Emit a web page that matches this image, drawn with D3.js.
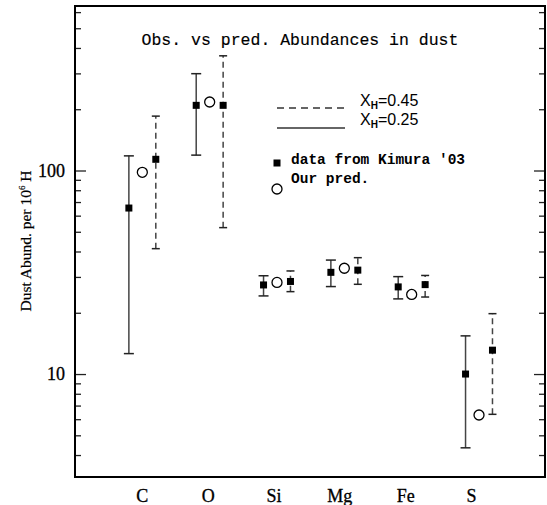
<!DOCTYPE html>
<html>
<head>
<meta charset="utf-8">
<script src="https://cdn.jsdelivr.net/npm/d3@7"></script>
<style>
  body { margin: 0; background: #fff; }
  svg { display: block; }
</style>
</head>
<body>
<script>
var width = 547,
    height = 505;

// elements along the x axis
var elements = ["C", "O", "Si", "Mg", "Fe", "S"];

// X_H = 0.25 (solid bars): Kimura '03 data, lower and upper limits
var obs25 = [65.4, 209, 27.4, 31.6, 26.8, 10.0];
var lo25  = [12.6, 119, 24.2, 26.9, 23.4, 4.34];
var hi25  = [118, 299, 30.4, 36.3, 30.1, 15.4];

// X_H = 0.45 (dashed bars)
var obs45 = [113.5, 209, 28.5, 32.4, 27.5, 13.1];
var lo45  = [41.3, 52.4, 25.4, 27.6, 23.9, 6.34];
var hi45  = [185, 366, 32.1, 37.3, 30.5, 19.8];

// our predictions (open circles)
var pred = [98, 217, 28.2, 33.1, 24.6, 6.29];

var majorTicks = [10, 100];
var minorTicks = [4, 5, 6, 7, 8, 9, 20, 30, 40, 50, 60, 70, 80, 90, 200, 300, 400, 500, 600];

var margin = {left: 75, right: 2, top: 6, bottom: 28};

var x = d3.scaleLinear()
    .domain([0, 6.98])
    .range([margin.left, width - margin.right]);

var y = d3.scaleLog()
    .domain([3.12, 643])
    .range([height - margin.bottom, margin.top]);

var svg = d3.select("body").append("svg")
    .attr("width", width)
    .attr("height", height);

var serif = "'Liberation Serif', 'DejaVu Serif', serif",
    mono = "'Liberation Mono', 'DejaVu Sans Mono', monospace",
    sans = "'Liberation Sans', Arial, sans-serif";

// left axis, ticks inside the frame
svg.append("g")
    .attr("transform", "translate(" + x.range()[0] + ",0)")
    .call(d3.axisLeft(y).tickValues(minorTicks).tickSizeInner(-6).tickSizeOuter(0).tickFormat(""));
svg.append("g")
    .attr("class", "major")
    .attr("transform", "translate(" + x.range()[0] + ",0)")
    .call(d3.axisLeft(y).tickValues(majorTicks).tickSizeInner(-11).tickSizeOuter(0).tickPadding(10).tickFormat(d3.format("d")));

// right axis mirror
svg.append("g")
    .attr("transform", "translate(" + x.range()[1] + ",0)")
    .call(d3.axisRight(y).tickValues(minorTicks).tickSizeInner(-6).tickSizeOuter(0).tickFormat(""));
svg.append("g")
    .attr("transform", "translate(" + x.range()[1] + ",0)")
    .call(d3.axisRight(y).tickValues(majorTicks).tickSizeInner(-11).tickSizeOuter(0).tickFormat(""));

svg.selectAll(".domain").remove();
svg.selectAll(".tick line").attr("stroke", "#222").attr("stroke-width", 1.3);
svg.selectAll(".major text")
    .attr("font-family", serif)
    .attr("font-size", 18)
    .attr("fill", "#000")
    .attr("stroke", "#000")
    .attr("stroke-width", 0.3);

// frame
svg.append("rect")
    .attr("x", x.range()[0])
    .attr("y", y.range()[1])
    .attr("width", x.range()[1] - x.range()[0])
    .attr("height", y.range()[0] - y.range()[1])
    .attr("fill", "none")
    .attr("stroke", "#000")
    .attr("stroke-width", 2);

// x labels
svg.selectAll(".xlab")
    .data(elements)
  .enter().append("text")
    .attr("class", "xlab")
    .attr("x", function(d, i) { return x(i + 1) - i * 1.5; })
    .attr("y", 502)
    .attr("text-anchor", "middle")
    .attr("font-family", serif)
    .attr("font-size", 18)
    .attr("stroke", "#000")
    .attr("stroke-width", 0.3)
    .text(function(d) { return d; });

// y label
var ylab = svg.append("text")
    .attr("transform", "translate(31," + 241 + ") rotate(-90)")
    .attr("text-anchor", "middle")
    .attr("font-family", serif)
    .attr("font-size", 15.5)
    .attr("stroke", "#000")
    .attr("stroke-width", 0.2);
ylab.append("tspan").text("Dust Abund. per 10");
ylab.append("tspan").attr("font-size", 9).attr("dy", -6).text("6");
ylab.append("tspan").attr("dy", 6).text(" H");

// title
svg.append("text")
    .attr("x", 300)
    .attr("y", 45)
    .attr("text-anchor", "middle")
    .attr("font-family", mono)
    .attr("font-size", 16.5)
    .attr("stroke", "#000")
    .attr("stroke-width", 0.15)
    .text("Obs. vs pred. Abundances in dust");

// error bars
function bars(obs, lo, hi, off, dash, cap) {
  var g = svg.append("g");
  var row = g.selectAll("g")
      .data(elements.map(function(d, i) { return {i: i, v: obs[i], lo: lo[i], hi: hi[i]}; }))
    .enter().append("g")
      .attr("transform", function(d) { return "translate(" + x(d.i + 1 + off) + ",0)"; });
  row.append("line")
      .attr("y1", function(d) { return y(d.lo); })
      .attr("y2", function(d) { return y(d.hi); })
      .attr("stroke", "#444")
      .attr("stroke-width", 1.5)
      .attr("stroke-dasharray", dash);
  row.selectAll(".cap")
      .data(function(d) { return [d.lo, d.hi]; })
    .enter().append("line")
      .attr("x1", -cap / 2).attr("x2", cap / 2)
      .attr("y1", function(d) { return y(d); })
      .attr("y2", function(d) { return y(d); })
      .attr("stroke", "#222")
      .attr("stroke-width", 1.5);
  row.append("rect")
      .attr("x", -3.5).attr("width", 7)
      .attr("y", function(d) { return y(d.v) - 3.5; })
      .attr("height", 7)
      .attr("fill", "#000");
}

bars(obs25, lo25, hi25, -0.2, null, 10);
bars(obs45, lo45, hi45, 0.2, "6,4", 8);

svg.append("g").selectAll("circle")
    .data(pred)
  .enter().append("circle")
    .attr("cx", function(d, i) { return x(i + 1); })
    .attr("cy", function(d) { return y(d); })
    .attr("r", 5)
    .attr("fill", "none")
    .attr("stroke", "#000")
    .attr("stroke-width", 1.3);

// legend
var leg = svg.append("g");
leg.append("line")
    .attr("x1", 277).attr("x2", 345).attr("y1", 108).attr("y2", 108)
    .attr("stroke", "#333").attr("stroke-width", 1.5).attr("stroke-dasharray", "7,5");
leg.append("line")
    .attr("x1", 277).attr("x2", 345).attr("y1", 128).attr("y2", 128)
    .attr("stroke", "#333").attr("stroke-width", 1.5);

var xh = [["0.45", 106], ["0.25", 125]];
xh.forEach(function(d) {
  var t = leg.append("text")
      .attr("x", 360).attr("y", d[1])
      .attr("font-family", sans)
      .attr("font-size", 16);
  t.append("tspan").text("X");
  t.append("tspan").attr("font-size", 10).attr("font-weight", "bold").attr("dy", 3).text("H");
  t.append("tspan").attr("dy", -3).text("=" + d[0]);
});

leg.append("rect")
    .attr("x", 273.5).attr("y", 159.5).attr("width", 7).attr("height", 7)
    .attr("fill", "#000");
leg.append("circle")
    .attr("cx", 277).attr("cy", 189).attr("r", 5)
    .attr("fill", "none").attr("stroke", "#000").attr("stroke-width", 1.3);
leg.append("text")
    .attr("x", 291).attr("y", 164)
    .attr("font-family", mono).attr("font-weight", "bold").attr("font-size", 14.5)
    .text("data from Kimura '03");
leg.append("text")
    .attr("x", 291).attr("y", 183)
    .attr("font-family", mono).attr("font-weight", "bold").attr("font-size", 14.5)
    .text("Our pred.");
</script>
</body>
</html>
